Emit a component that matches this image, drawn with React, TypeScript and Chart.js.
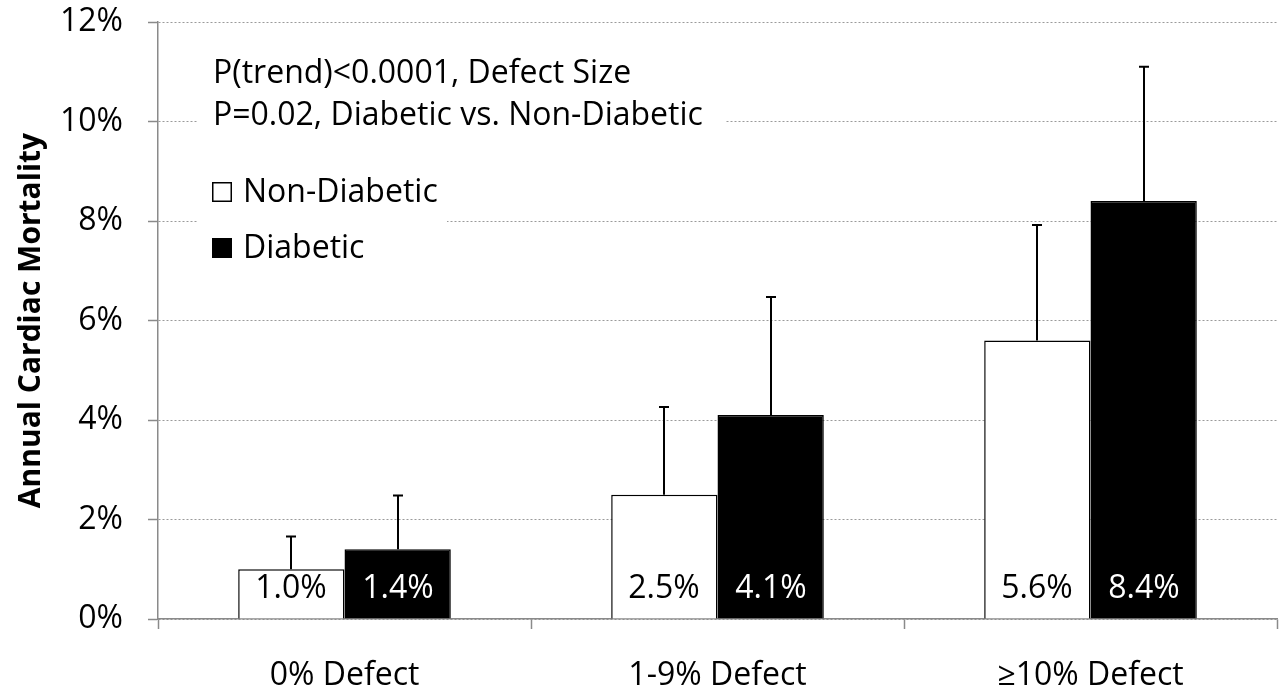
import React, { useEffect, useRef } from "react";
import { Chart, registerables } from "chart.js";

Chart.register(...registerables);

// Defect-size groups and annual cardiac mortality (%) per group
const categories = ["0% Defect", "1-9% Defect", "≥10% Defect"];
const seriesNames = ["Non-Diabetic", "Diabetic"];
const nonDiabetic = [1.0, 2.5, 5.6];
const diabetic = [1.4, 4.1, 8.4];
// upper ends of the error bars (%)
const nonDiabeticUpper = [1.66, 4.26, 7.92];
const diabeticUpper = [2.48, 6.47, 11.1];
const yTickValues = [0, 2, 4, 6, 8, 10, 12];
const notes = ["P(trend)<0.0001, Defect Size", "P=0.02, Diabetic vs. Non-Diabetic"];
const yTitle = "Annual Cardiac Mortality";

const FONT = "'Open Sans', Lato, sans-serif";
const FONT_SIZE = 32;
const AXIS_GREY = "#8a8a8a";
const GRID_GREY = "#9a9a9a";
const FILLS = ["#ffffff", "#000000"];
const TEXT_ON_BAR = ["#000000", "#ffffff"];

// White panels with the statistics notes and the legend, drawn over the grid
const overlayPlugin = {
  id: "notesAndLegend",
  beforeDatasetsDraw(chart: any) {
    const ctx = chart.ctx;
    const left = chart.chartArea.left;
    ctx.save();
    ctx.fillStyle = "#ffffff";
    ctx.fillRect(left + 39, 45, 528, 100);
    ctx.fillRect(left + 39, 160, 250, 115);

    ctx.fillStyle = "#000000";
    ctx.font = `${FONT_SIZE}px ${FONT}`;
    ctx.textAlign = "left";
    ctx.textBaseline = "alphabetic";
    notes.forEach((t, i) => ctx.fillText(t, left + 55, 83 + i * 42));

    const rows = [182, 238];
    chart.data.datasets.forEach((ds: any, i: number) => {
      const y = rows[i];
      ctx.fillStyle = ds.backgroundColor;
      ctx.fillRect(left + 54, y, 20, 20);
      ctx.strokeStyle = "#000000";
      ctx.lineWidth = 1.5;
      ctx.strokeRect(left + 54.75, y + 0.75, 18.5, 18.5);
      ctx.fillStyle = "#000000";
      ctx.fillText(ds.label, left + 85, y + 20);
    });
    ctx.restore();
  },
};

// Error bars above each bar and the value printed inside its base
const errorBarPlugin = {
  id: "errorBarsAndValues",
  afterDatasetsDraw(chart: any) {
    const ctx = chart.ctx;
    const yScale = chart.scales.y;
    const uppers = [nonDiabeticUpper, diabeticUpper];
    ctx.save();
    chart.data.datasets.forEach((ds: any, di: number) => {
      const meta = chart.getDatasetMeta(di);
      meta.data.forEach((bar: any, i: number) => {
        const x = Math.round(bar.x);
        const top = yScale.getPixelForValue(uppers[di][i]);
        ctx.strokeStyle = "#000000";
        ctx.lineWidth = 2;
        ctx.beginPath();
        ctx.moveTo(x, bar.y);
        ctx.lineTo(x, top);
        ctx.moveTo(x - 5, top);
        ctx.lineTo(x + 5, top);
        ctx.stroke();

        ctx.fillStyle = TEXT_ON_BAR[di];
        ctx.font = `${FONT_SIZE}px ${FONT}`;
        ctx.textAlign = "center";
        ctx.textBaseline = "alphabetic";
        ctx.fillText(ds.data[i].toFixed(1) + "%", x, yScale.bottom - 21);
      });
    });
    ctx.restore();
  },
};

export default function App() {
  const ref = useRef<HTMLCanvasElement | null>(null);

  useEffect(() => {
    if (!ref.current) return;
    const chart = new Chart(ref.current, {
      type: "bar",
      data: {
        labels: categories,
        datasets: [nonDiabetic, diabetic].map((values, i) => ({
          label: seriesNames[i],
          data: values,
          backgroundColor: FILLS[i],
          borderColor: "#000000",
          borderWidth: 1.5,
          categoryPercentage: 0.57,
          barPercentage: 1.0,
        })),
      },
      options: {
        animation: false,
        responsive: false,
        devicePixelRatio: 1,
        layout: { padding: { top: 22, right: 5, bottom: 0, left: 0 } },
        plugins: {
          legend: { display: false },
          tooltip: { enabled: false },
        },
        scales: {
          x: {
            grid: {
              display: true,
              offset: true,
              drawOnChartArea: false,
              drawTicks: true,
              tickLength: 10,
              color: AXIS_GREY,
              tickColor: AXIS_GREY,
              tickWidth: 1.5,
            },
            border: { display: true, color: AXIS_GREY, width: 1.5 },
            ticks: {
              color: "#000000",
              padding: 28,
              font: { family: FONT, size: FONT_SIZE },
            },
            afterFit: (s: any) => {
              s.height = 75;
              s.paddingLeft = 0;
              s.paddingRight = 0;
            },
          },
          y: {
            min: yTickValues[0],
            max: yTickValues[yTickValues.length - 1],
            afterBuildTicks: (s: any) => {
              s.ticks = yTickValues.map((v) => ({ value: v }));
            },
            grid: {
              color: GRID_GREY,
              lineWidth: 1,
              tickLength: 10,
              tickColor: AXIS_GREY,
              tickWidth: 1.5,
            },
            border: { display: true, color: AXIS_GREY, width: 1.5, dash: [2, 2] },
            ticks: {
              color: "#000000",
              padding: 25,
              font: { family: FONT, size: FONT_SIZE },
              callback: (v: any) => `${v}%`,
            },
            title: {
              display: true,
              text: yTitle,
              color: "#000000",
              font: { family: FONT, size: 30, weight: "bold" },
              padding: { top: 13, bottom: 0 },
            },
            afterFit: (s: any) => {
              s.width = 158;
              s.paddingTop = 0;
              s.paddingBottom = 0;
            },
          },
        },
      },
      plugins: [overlayPlugin, errorBarPlugin],
    });
    return () => chart.destroy();
  }, []);

  return (
    <div style={{ position: "fixed", left: 0, top: 0, width: 1282, height: 694, background: "#ffffff" }}>
      <canvas ref={ref} width={1282} height={694} style={{ display: "block" }} />
    </div>
  );
}
